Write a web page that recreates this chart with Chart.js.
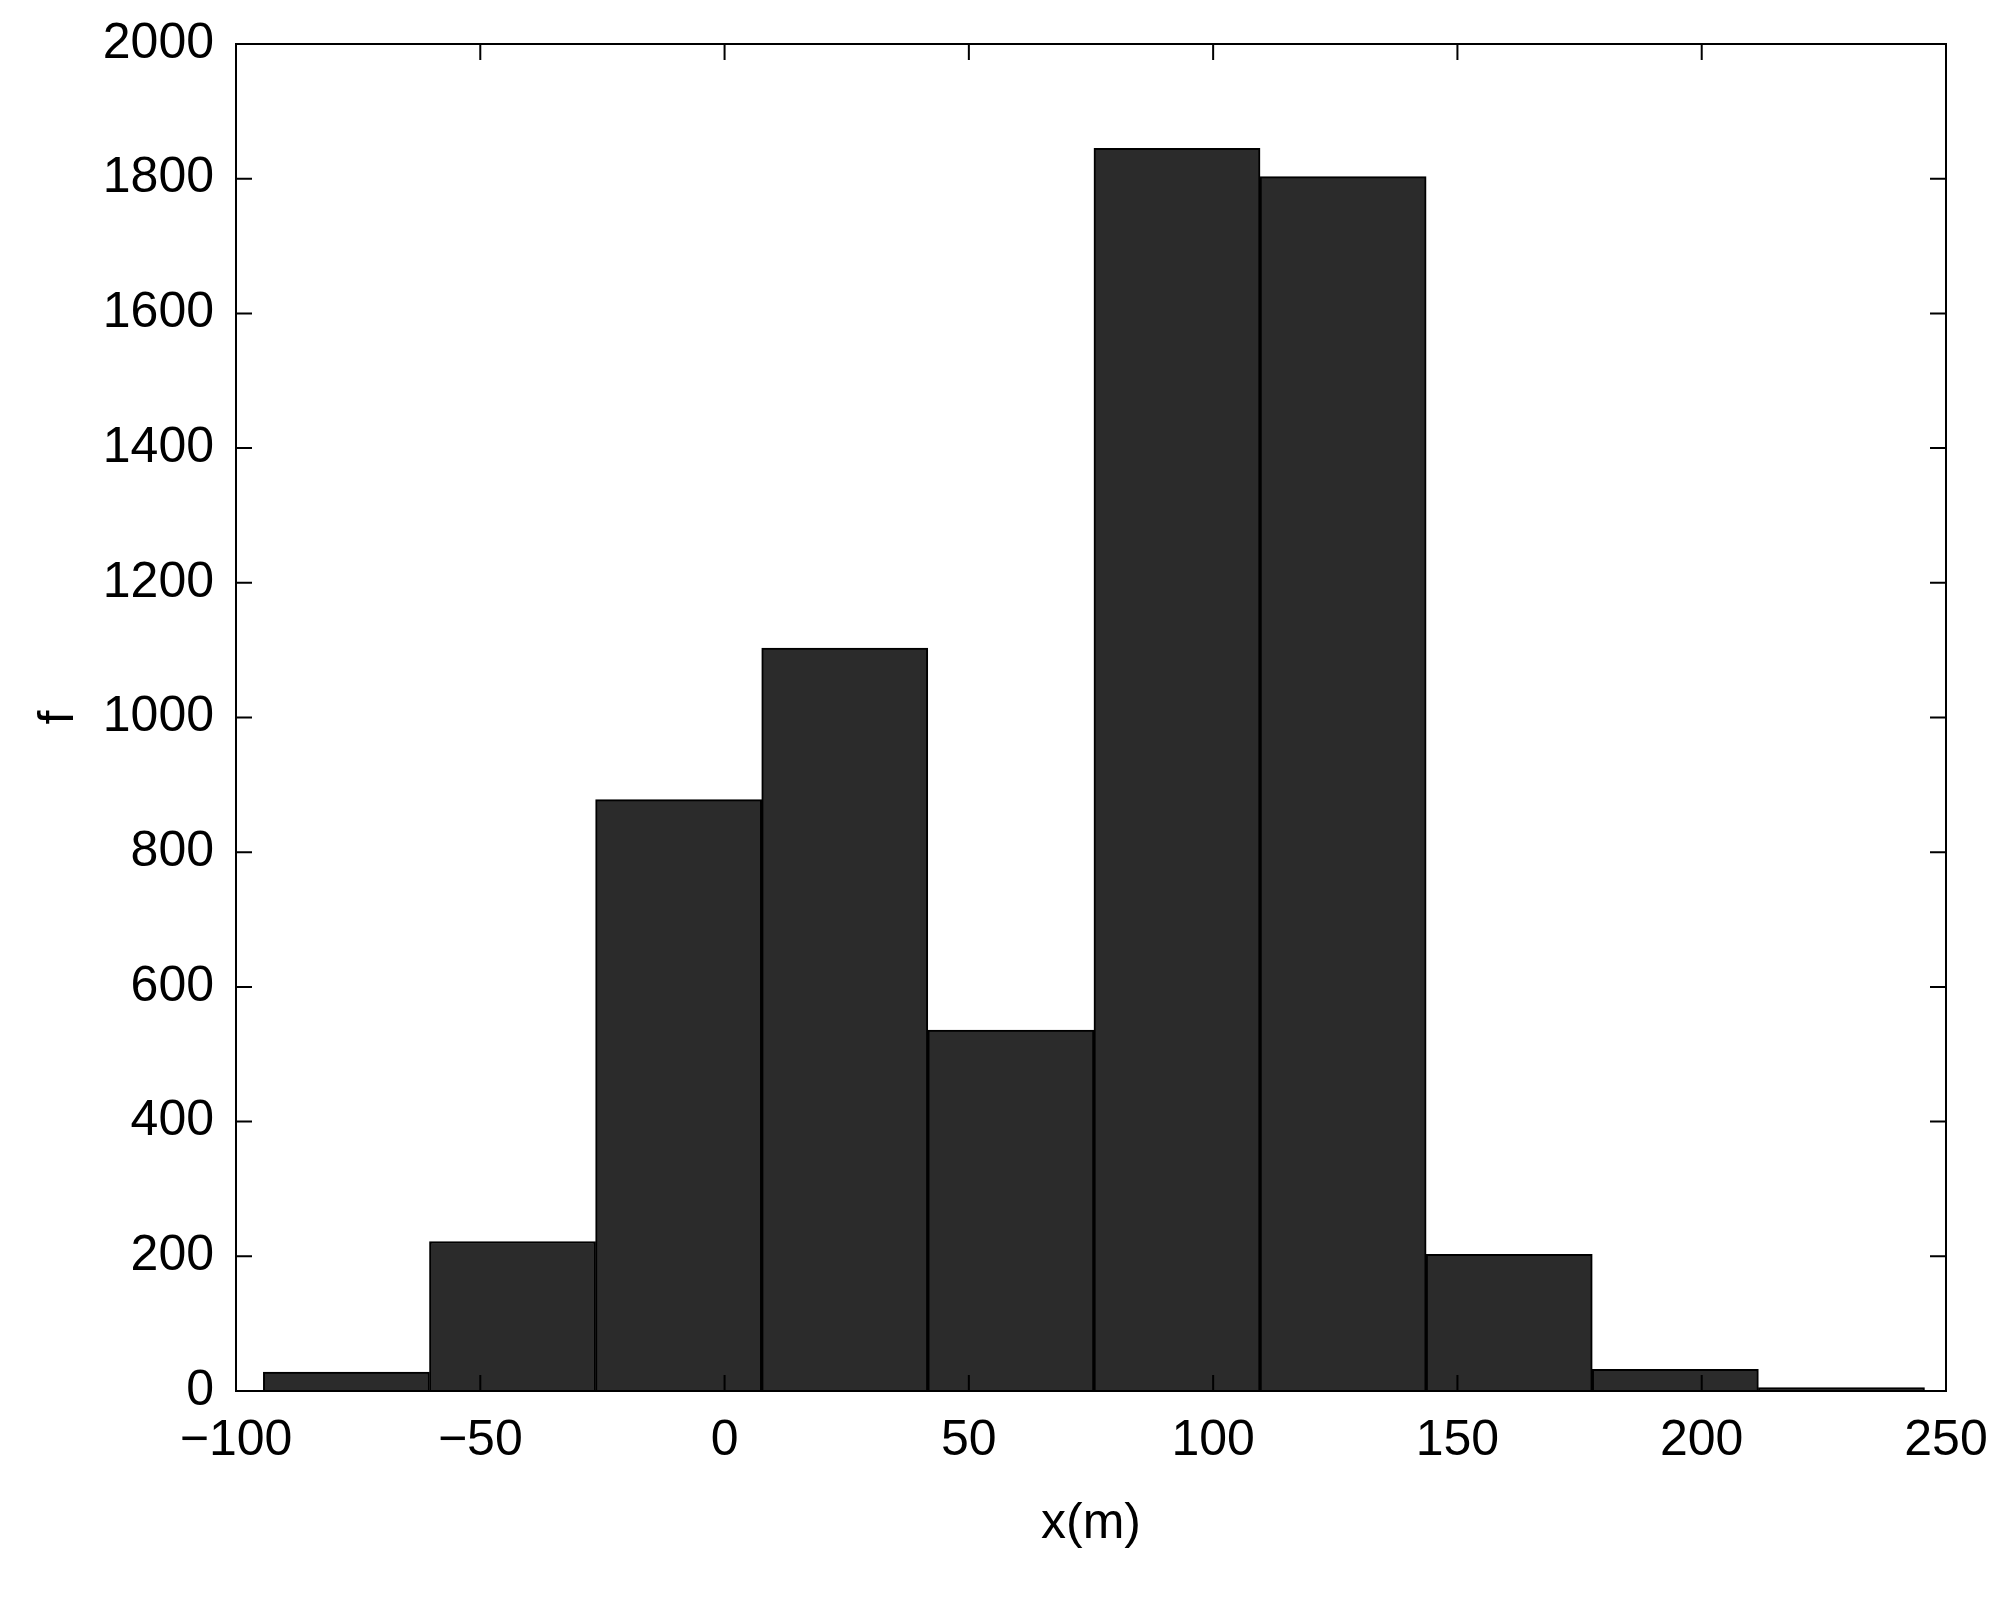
<!DOCTYPE html>
<html>
<head>
<meta charset="utf-8">
<script src="https://cdn.jsdelivr.net/npm/chart.js@4"></script>
<style>
  html, body { margin: 0; padding: 0; background: #fff; }
  #wrap { width: 2012px; height: 1604px; }
</style>
</head>
<body>
<div id="wrap"><canvas id="histChart"></canvas></div>
<script>
// bin centres (m) and counts
const binCenters = [-77.4, -43.4, -9.4, 24.6, 58.6, 92.6, 126.6, 160.6, 194.6, 228.6];
const counts = [28, 222, 878, 1103, 536, 1845, 1803, 203, 32, 5];
const xTicks = [-100, -50, 0, 50, 100, 150, 200, 250];
const yTicks = [0, 200, 400, 600, 800, 1000, 1200, 1400, 1600, 1800, 2000];

const font = { family: 'Liberation Sans, Arial, sans-serif', size: 50 };

// box around plot + inward ticks on all four sides
const frame = {
    id: 'frame',
    afterDraw(chart) {
        const { ctx, chartArea: a, scales } = chart;
        ctx.save();
        ctx.strokeStyle = '#000';
        ctx.lineWidth = 2;
        ctx.strokeRect(a.left, a.top, a.right - a.left, a.bottom - a.top);
        const t = 16;
        ctx.beginPath();
        xTicks.forEach(v => {
            const px = scales.x.getPixelForValue(v);
            ctx.moveTo(px, a.bottom); ctx.lineTo(px, a.bottom - t);
            ctx.moveTo(px, a.top); ctx.lineTo(px, a.top + t);
        });
        yTicks.forEach(v => {
            const py = scales.y.getPixelForValue(v);
            ctx.moveTo(a.left, py); ctx.lineTo(a.left + t, py);
            ctx.moveTo(a.right, py); ctx.lineTo(a.right - t, py);
        });
        ctx.stroke();
        ctx.restore();
    }
};

new Chart(document.getElementById('histChart'), {
    type: 'bar',
    data: {
        datasets: [{
            data: binCenters.map((x, i) => ({ x: x, y: counts[i] })),
            backgroundColor: '#2b2b2b',
            borderColor: '#000',
            borderWidth: 2,
            barPercentage: 1,
            categoryPercentage: 1
        }]
    },
    options: {
        responsive: true,
        maintainAspectRatio: false,
        animation: false,
        layout: { padding: { top: 41, right: 66, left: 25, bottom: 46 } },
        plugins: { legend: { display: false }, tooltip: { enabled: false } },
        scales: {
            x: {
                type: 'linear',
                offset: false,
                min: -100, max: 250,
                afterBuildTicks: s => { s.ticks = xTicks.map(v => ({ value: v })); },
                afterFit: s => { s.height = 167; },
                grid: { display: false },
                border: { display: false },
                ticks: {
                    color: '#000', font: font, maxRotation: 0, padding: 12,
                    callback: v => v < 0 ? '\u2212' + Math.abs(v) : String(v)
                },
                title: { display: true, text: 'x(m)', color: '#000', font: font, padding: { top: 0 } }
            },
            y: {
                min: 0, max: 2000,
                afterBuildTicks: s => { s.ticks = yTicks.map(v => ({ value: v })); },
                afterFit: s => { s.width = 211; },
                grid: { display: false },
                border: { display: false },
                ticks: { color: '#000', font: font, padding: 14, callback: v => String(v) },
                title: { display: true, text: 'f', color: '#000', font: font, padding: { bottom: 4 } }
            }
        }
    },
    plugins: [frame]
});
</script>
</body>
</html>
